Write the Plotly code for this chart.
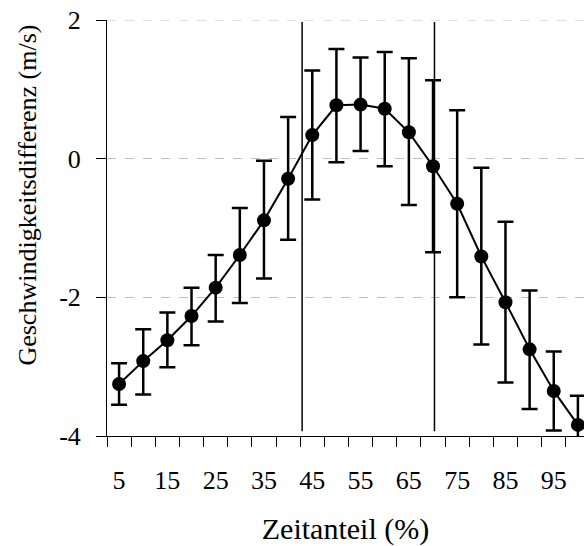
import plotly.graph_objects as go

zeitanteil = [5, 10, 15, 20, 25, 30, 35, 40, 45, 50, 55, 60, 65, 70, 75, 80, 85, 90, 95, 100]
mittelwert = [-3.25, -2.92, -2.62, -2.27, -1.86, -1.39, -0.89, -0.29, 0.34, 0.77,
              0.78, 0.72, 0.38, -0.11, -0.65, -1.41, -2.07, -2.75, -3.35, -3.84]
obere_grenze = [-2.95, -2.46, -2.22, -1.86, -1.39, -0.71, -0.03, 0.60, 1.27, 1.58,
                1.46, 1.54, 1.45, 1.13, 0.70, -0.13, -0.91, -1.90, -2.78, -3.42]
untere_grenze = [-3.55, -3.40, -3.01, -2.69, -2.35, -2.08, -1.73, -1.17, -0.59, -0.05,
                 0.11, -0.11, -0.67, -1.35, -2.00, -2.68, -3.23, -3.61, -3.92, -4.20]
tick_labels = [5, 15, 25, 35, 45, 55, 65, 75, 85, 95]
tick_marks = [2.5 + 5 * i for i in range(20)]
y_ticks = [-4, -2, 0, 2]
y_ticktext = ["-4", "-2", "0", "2"]
phasen_grenzen = [42.9, 70.3]

err_plus = [o - m for o, m in zip(obere_grenze, mittelwert)]
err_minus = [m - u for m, u in zip(mittelwert, untere_grenze)]

FONT = "Liberation Serif"

fig = go.Figure()
fig.add_trace(go.Scatter(
    x=zeitanteil, y=mittelwert, mode="lines+markers",
    line=dict(color="black", width=2),
    marker=dict(color="black", size=14),
    error_y=dict(type="data", symmetric=False, array=err_plus, arrayminus=err_minus,
                 color="black", thickness=2.5, width=8),
    cliponaxis=False,
    showlegend=False,
))

# top dashed gridline (plotly omits the grid line on the range edge)
fig.add_shape(type="line", x0=0, x1=1, xref="paper", y0=2, y1=2, yref="y",
              line=dict(color="#bfbfbf", width=1, dash="dash"), layer="below")

for xv in phasen_grenzen:
    fig.add_shape(type="line", x0=xv, x1=xv, y0=-3.93, y1=1.97, xref="x", yref="y",
                  line=dict(color="black", width=1.5))

fig.add_annotation(
    text="Geschwindigkeitsdifferenz (m/s)", textangle=-90,
    xref="paper", yref="paper", x=-0.1656, y=0.578,
    xanchor="center", yanchor="middle", showarrow=False,
    font=dict(family=FONT, size=26, color="black"),
)

fig.update_layout(
    width=584, height=546,
    margin=dict(l=107, r=0, t=20, b=110),
    paper_bgcolor="white", plot_bgcolor="white",
    font=dict(family=FONT, color="black", size=24),
    xaxis=dict(
        range=[2.5, 101.26],
        tickvals=tick_labels, ticktext=[str(v) for v in tick_labels],
        ticks="", showgrid=False, zeroline=False,
        showline=True, linecolor="black", linewidth=1,
        ticklabelstandoff=21,
        tickfont=dict(size=26),
        minor=dict(tickvals=tick_marks, ticks="outside", ticklen=10,
                   tickcolor="black", tickwidth=1, showgrid=False),
        title=dict(text="Zeitanteil (%)", font=dict(size=30), standoff=25),
    ),
    yaxis=dict(
        range=[-4, 2], tickvals=y_ticks, ticktext=y_ticktext,
        ticks="outside", ticklen=10, tickcolor="black", tickwidth=1,
        showline=True, linecolor="black", linewidth=1,
        showgrid=True, gridcolor="#bfbfbf", griddash="dash", gridwidth=1,
        zeroline=False,
        tickfont=dict(size=26),
        ticklabelstandoff=10,
    ),
)

fig.write_html("out.html")
